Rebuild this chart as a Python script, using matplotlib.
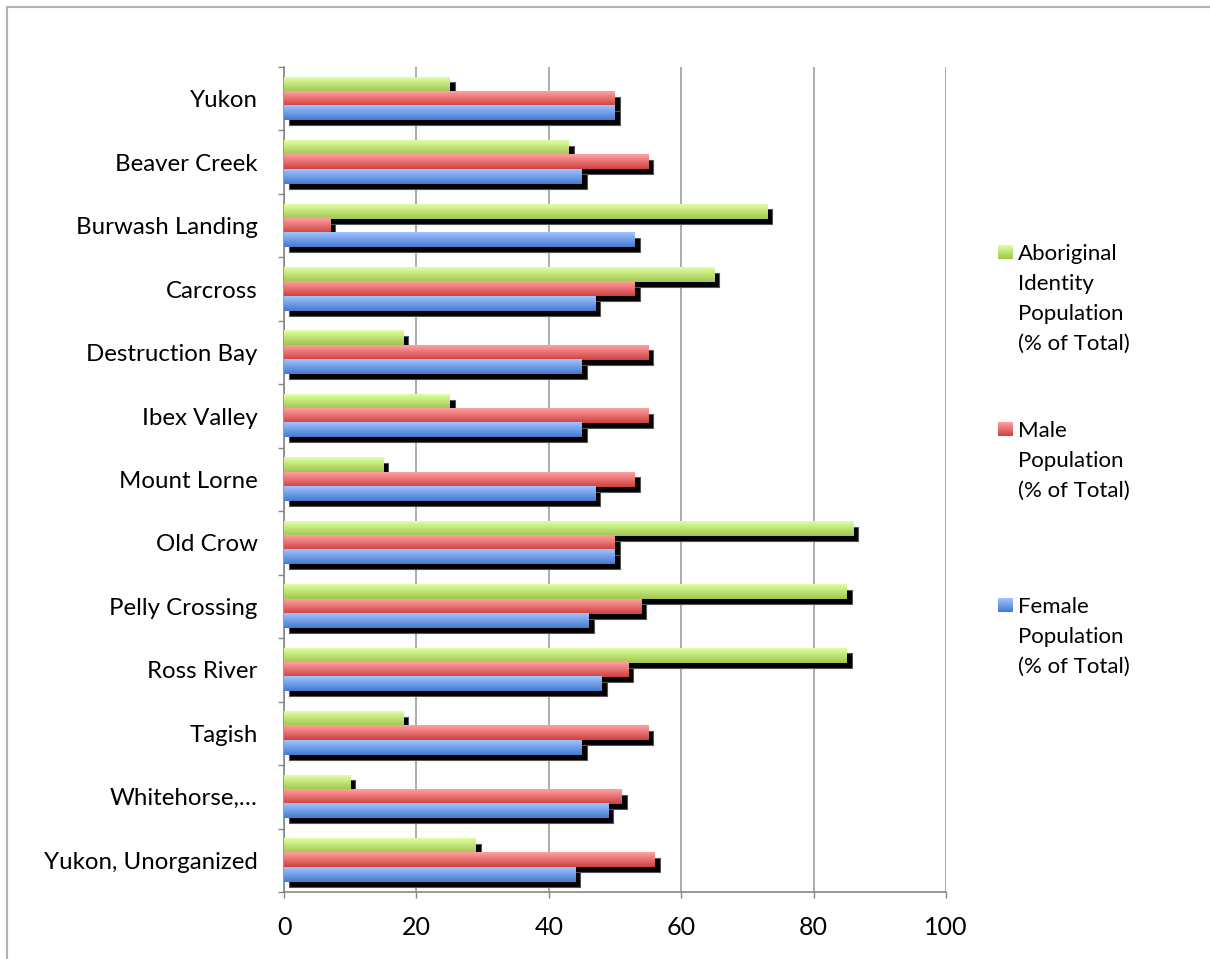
import matplotlib.pyplot as plt
import numpy as np
from matplotlib.colors import LinearSegmentedColormap
from matplotlib.lines import Line2D

# =========================
# DATOS
# =========================
comunidades = [
    "Yukon", "Beaver Creek", "Burwash Landing", "Carcross", "Destruction Bay",
    "Ibex Valley", "Mount Lorne", "Old Crow", "Pelly Crossing", "Ross River",
    "Tagish", "Whitehorse,…", "Yukon, Unorganized",
]
aborigen = [25, 43, 73, 65, 18, 25, 15, 86, 85, 85, 18, 10, 29]
hombres = [50, 55, 7, 53, 55, 55, 53, 50, 54, 52, 55, 51, 56]
mujeres = [50, 45, 53, 47, 45, 45, 47, 50, 46, 48, 45, 49, 44]
x_ticks = [0, 20, 40, 60, 80, 100]

series = [
    ("Aboriginal\nIdentity\nPopulation\n(% of Total)", aborigen, "#e0ffa2", "#9fc64c"),
    ("Male\nPopulation\n(% of Total)", hombres, "#ffa0a0", "#cf4040"),
    ("Female\nPopulation\n(% of Total)", mujeres, "#a0c4ff", "#4579cf"),
]

plt.rcParams["font.family"] = ["Lato", "DejaVu Sans"]

W, H = 1210, 959
fig = plt.figure(figsize=(W / 100, H / 100), dpi=100)
ax = fig.add_axes([284 / W, 1 - 892 / H, (946 - 284) / W, (892 - 67) / H])

n = len(comunidades)
alto = 0.225
y = np.arange(n)
sombra_x = 5 / 6.62
sombra_y = 5 / 63.4

# sombras negras detras de todas las barras
for k, (_, valores, _, _) in enumerate(series):
    offs = (k - 1) * alto
    ax.barh(y + offs + sombra_y, valores, height=alto, left=sombra_x,
            color="black", edgecolor="#555555", linewidth=0.8, zorder=2)

# barras con degradado
for k, (_, valores, c_top, c_bot) in enumerate(series):
    offs = (k - 1) * alto
    cmap = LinearSegmentedColormap.from_list("g", [c_top, c_bot])
    grad = np.linspace(0, 1, 64).reshape(-1, 1)
    for i, v in enumerate(valores):
        yc = y[i] + offs
        ax.imshow(grad, cmap=cmap, aspect="auto", origin="upper",
                  extent=(0, v, yc + alto / 2, yc - alto / 2),
                  interpolation="bilinear", zorder=3)

ax.set_xlim(0, 100)
ax.set_ylim(n - 0.5, -0.5)
ax.set_xticks(x_ticks)
ax.set_xticklabels([str(t) for t in x_ticks], fontsize=18)
ax.set_yticks(y)
ax.set_yticklabels(comunidades, fontsize=17.3)
ax.set_yticks(np.arange(n + 1) - 0.5, minor=True)

ax.grid(axis="x", color="#a6a6a6", linewidth=1.3, zorder=0)
ax.set_axisbelow(True)
ax.tick_params(axis="y", which="major", length=0, pad=19)
ax.tick_params(axis="y", which="minor", length=4, color="#868686", width=1)
ax.tick_params(axis="x", length=4, color="#868686", width=1, pad=13)
for lado in ["top", "right"]:
    ax.spines[lado].set_visible(False)
ax.spines["left"].set_color("#868686")
ax.spines["bottom"].set_color("#868686")
ax.spines["left"].set_linewidth(1.2)
ax.spines["bottom"].set_linewidth(1.2)

# leyenda manual
leyenda_y = [252, 429, 605]
for (etiqueta, _, c_top, c_bot), ly in zip(series, leyenda_y):
    cmap = LinearSegmentedColormap.from_list("g", [c_top, c_bot])
    lax = fig.add_axes([998 / W, 1 - (ly + 7) / H, 15 / W, 14 / H])
    lax.imshow(np.linspace(0, 1, 32).reshape(-1, 1), cmap=cmap, aspect="auto")
    lax.axis("off")
    fig.text(1018 / W, 1 - (ly - 8) / H, etiqueta, fontsize=16,
             va="top", ha="left", linespacing=1.62)

# borde exterior
fig.add_artist(Line2D([7 / W, 1.01], [1 - 7 / H, 1 - 7 / H], color="#b3b3b3", lw=1.5))
fig.add_artist(Line2D([7 / W, 7 / W], [1 - 7 / H, -0.01], color="#b3b3b3", lw=1.5))

fig.savefig("out.png", dpi=100)
